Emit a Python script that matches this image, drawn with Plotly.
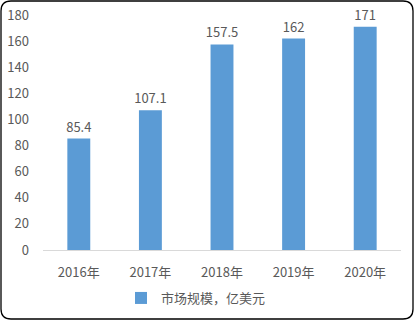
import plotly.graph_objects as go

years = ["2016年", "2017年", "2018年", "2019年", "2020年"]
values = [85.4, 107.1, 157.5, 162, 171]
labels = ["85.4", "107.1", "157.5", "162", "171"]
series_name = "市场规模，亿美元"

W, H = 415, 321
L, R, T, B = 43, 14, 15, 71
pw, ph = W - L - R, H - T - B

def px(x):
    return (x - L) / pw

def py(y):
    return 1 - (y - T) / ph

font = "Noto Sans CJK SC, Liberation Sans, sans-serif"
grey = "#595959"

fig = go.Figure()
fig.add_trace(go.Bar(
    x=years, y=values, name=series_name,
    marker=dict(color="#5B9BD5", line=dict(width=0)),
    text=labels, textposition="outside", cliponaxis=False, constraintext="none",
    textfont=dict(size=13, color=grey, family=font),
))

# rounded border
x0, y0, x1, y1, r = 1, 1, 413, 319, 10
path = (
    f"M {px(x0+r)} {py(y0)} L {px(x1-r)} {py(y0)} "
    f"Q {px(x1)} {py(y0)} {px(x1)} {py(y0+r)} "
    f"L {px(x1)} {py(y1-r)} Q {px(x1)} {py(y1)} {px(x1-r)} {py(y1)} "
    f"L {px(x0+r)} {py(y1)} Q {px(x0)} {py(y1)} {px(x0)} {py(y1-r)} "
    f"L {px(x0)} {py(y0+r)} Q {px(x0)} {py(y0)} {px(x0+r)} {py(y0)} Z"
)
fig.add_shape(type="path", path=path, xref="paper", yref="paper",
              line=dict(color="#000000", width=1.3), layer="above")

fig.update_layout(
    width=W, height=H,
    margin=dict(l=L, r=R, t=T, b=B, pad=0, autoexpand=False),
    paper_bgcolor="white", plot_bgcolor="white",
    bargap=0.68,
    showlegend=True,
    legend=dict(orientation="h", x=px(121), xanchor="left", y=py(298), yanchor="middle",
                itemwidth=30, font=dict(size=13, color=grey, family=font)),
    font=dict(family=font, color=grey, size=13),
    xaxis=dict(showline=True, linecolor="#D9D9D9", linewidth=1, ticks="",
               ticklabelstandoff=10, tickfont=dict(size=13, color=grey, family=font)),
    yaxis=dict(range=[0, 180], dtick=20, showgrid=False, zeroline=False,
               showline=False, ticks="", ticklabelstandoff=13,
               tickfont=dict(size=13, color=grey, family=font)),
)

fig.write_html("out.html")
